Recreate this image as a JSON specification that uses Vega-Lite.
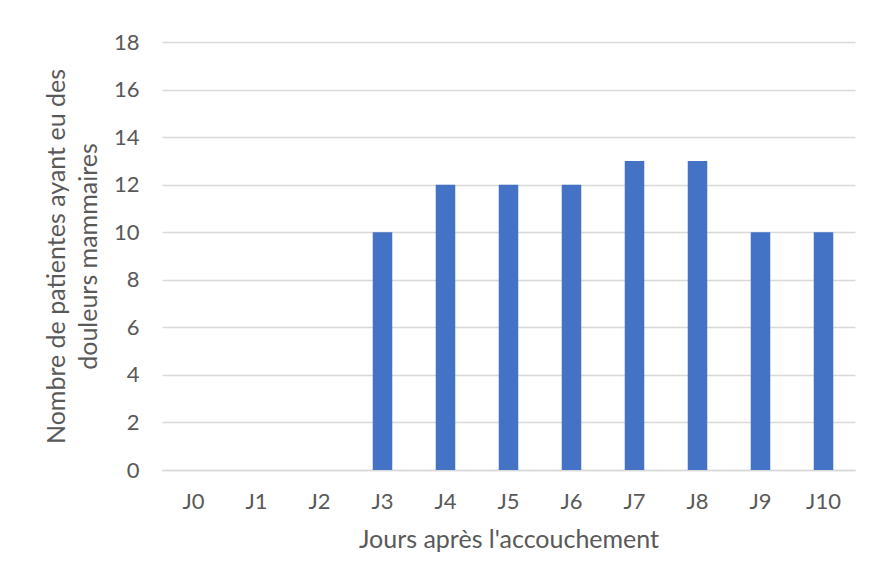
{
  "$schema": "https://vega.github.io/schema/vega-lite/v6.json",
  "autosize": "none",
  "width": 693,
  "height": 428,
  "padding": {"left": 162, "top": 42, "right": 15, "bottom": 111},
  "background": "white",
  "config": {
    "view": {"stroke": null},
    "font": "Lato",
    "axis": {"labelColor": "#595959", "titleColor": "#595959", "labelFont": "Lato", "titleFont": "Lato", "titleFontWeight": "normal"}
  },
  "data": {"values": [
    {"jour": "J0", "n": 0}, {"jour": "J1", "n": 0}, {"jour": "J2", "n": 0},
    {"jour": "J3", "n": 10}, {"jour": "J4", "n": 12}, {"jour": "J5", "n": 12},
    {"jour": "J6", "n": 12}, {"jour": "J7", "n": 13}, {"jour": "J8", "n": 13},
    {"jour": "J9", "n": 10}, {"jour": "J10", "n": 10}
  ]},
  "mark": {"type": "bar", "color": "#4472C4", "width": {"band": 0.31}},
  "encoding": {
    "x": {
      "field": "jour", "type": "ordinal", "sort": null,
      "scale": {"paddingInner": 0, "paddingOuter": 0},
      "axis": {"labelAngle": 0, "ticks": false, "domainColor": "#d9d9d9", "domainWidth": 1.3, "labelFontSize": 22, "labelPadding": 21, "title": "Jours après l'accouchement", "titleFontSize": 25, "titlePadding": 15}
    },
    "y": {
      "field": "n", "type": "quantitative",
      "scale": {"domain": [0, 18]},
      "axis": {"values": [0,2,4,6,8,10,12,14,16,18], "domain": false, "ticks": false, "gridColor": "#d9d9d9", "gridWidth": 1.3, "labelFontSize": 22, "labelPadding": 23, "title": ["Nombre de patientes ayant eu des", "douleurs mammaires"], "titleFontSize": 25, "titleLineHeight": 32, "titlePadding": 12}
    }
  }
}
